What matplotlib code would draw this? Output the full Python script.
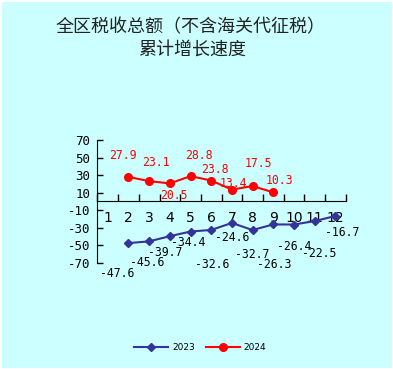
import matplotlib
matplotlib.use("Agg")
import matplotlib.pyplot as plt

# --- data ---
months = list(range(1, 13))
tick_labels = [str(m) for m in months]

months_2023 = [2, 3, 4, 5, 6, 7, 8, 9, 10, 11, 12]
growth_2023 = [-47.6, -45.6, -39.7, -34.4, -32.6, -24.6, -32.7, -26.3, -26.4, -22.5, -16.7]

months_2024 = [2, 3, 4, 5, 6, 7, 8, 9]
growth_2024 = [27.9, 23.1, 20.5, 28.8, 23.8, 13.4, 17.5, 10.3]

# label offsets in pixels (dx, dy) relative to each point
offs_2023 = [(-11, -30), (-2, -21), (-5, -16), (-2, -11), (1, -35), (0, -15),
             (0, -24), (1, -40), (0, -22), (5, -32), (7, -16)]
offs_2024 = [(-6, 21), (7, 19), (4, -12), (8, 21), (4, 11), (1, 6), (6, 23), (6, 12)]

bg = "#CCFFFF"
blue = "#333399"
red = "#FF0000"
mono = "DejaVu Sans Mono"

fig = plt.figure(figsize=(3.93, 3.69), dpi=100)
fig.patch.set_facecolor(bg)
fig.patch.set_edgecolor("white")
fig.patch.set_linewidth(2)

ax = fig.add_axes([0.248, 0.288, 0.6315, 0.3325])
ax.set_facecolor(bg)

l23, = ax.plot(months_2023, growth_2023, color=blue, lw=1.5, marker="D",
               markersize=4.5, label="2023", zorder=3)
l24, = ax.plot(months_2024, growth_2024, color=red, lw=1.5, marker="o",
               markersize=5.5, label="2024", zorder=3)

for m, v, (dx, dy) in zip(months_2023, growth_2023, offs_2023):
    ax.annotate(f"{v:.1f}", (m, v), xytext=(dx, dy), textcoords="offset pixels",
                ha="center", va="center", fontsize=8.3, family=mono, color="black")
for m, v, (dx, dy) in zip(months_2024, growth_2024, offs_2024):
    ax.annotate(f"{v:.1f}", (m, v), xytext=(dx, dy), textcoords="offset pixels",
                ha="center", va="center", fontsize=8.3, family=mono, color=red,
                zorder=2)

ax.set_xlim(0.5, 12.5)
ax.set_ylim(-70, 70)
ax.set_yticks(range(-70, 71, 20))
ax.set_yticklabels([str(t) for t in range(-70, 71, 20)], family=mono, fontsize=9)

# boundary ticks on the axis, category labels centered below it
ax.set_xticks([m + 0.5 for m in range(0, 13)])
ax.set_xticklabels([])
ax.set_xticks(months, minor=True)
ax.set_xticklabels(tick_labels, minor=True, family=mono, fontsize=8.3)
ax.tick_params(axis="x", which="major", direction="in", length=5, width=1)
ax.tick_params(axis="x", which="minor", length=0, pad=7)
ax.tick_params(axis="y", direction="in", length=4, width=1, pad=5)

ax.spines["top"].set_visible(False)
ax.spines["right"].set_visible(False)
ax.spines["bottom"].set_position(("data", 0))

fig.text(0.485, 1 - 27 / 369, "全区税收总额（不含海关代征税）", ha="center", va="center",
         fontsize=13, family=["Noto Sans CJK SC", "DejaVu Sans"], color="#222222")
fig.text(0.49, 1 - 50 / 369, "累计增长速度", ha="center", va="center",
         fontsize=13, family=["Noto Sans CJK SC", "DejaVu Sans"], color="#222222")

fig.legend(handles=[l23, l24], loc="center", bbox_to_anchor=(0.51, 1 - 348 / 369),
           ncol=2, frameon=False, fontsize=6.5, handlelength=3.7,
           handletextpad=0.45, columnspacing=1.3)

fig.savefig("out.png", dpi=100, facecolor=bg)
